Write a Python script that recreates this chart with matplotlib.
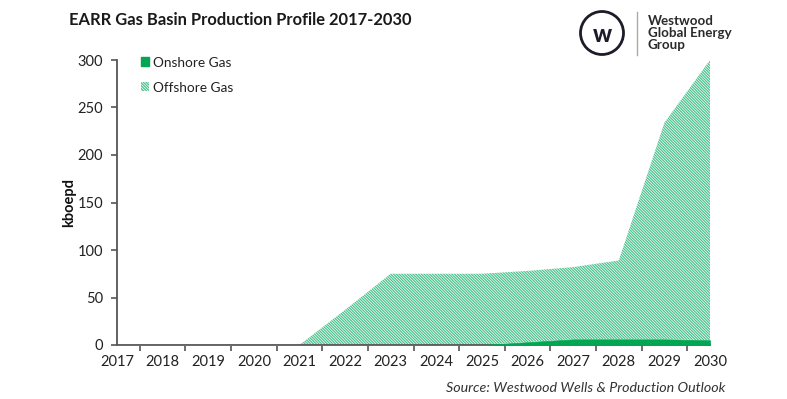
import matplotlib
matplotlib.use("Agg")
import matplotlib.pyplot as plt
import numpy as np
from matplotlib.patches import Circle, Patch
from matplotlib.lines import Line2D

years = [2017, 2018, 2019, 2020, 2021, 2022, 2023, 2024, 2025, 2026, 2027, 2028, 2029, 2030]
onshore = [0, 0, 0, 0, 0, 0, 0, 0, 0, 3, 6, 6, 6, 5]
offshore = [0, 0, 0, 0, 0, 37, 75, 75, 75, 75, 76, 83, 228, 295]
yticks = [0, 50, 100, 150, 200, 250, 300]

plt.rcParams['font.family'] = ['Lato', 'DejaVu Sans']
plt.rcParams['hatch.linewidth'] = 0.9

HATCH = '\\' * 12

fig = plt.figure(figsize=(7.87, 3.99), dpi=100)
ax = fig.add_axes([117/787, 1-345/399, (710-117)/787, (345-60)/399])

x = np.array(years, dtype=float)
on = np.array(onshore, dtype=float)
off = np.array(offshore, dtype=float)
total = on + off

off_color = '#4cc28e'
on_color = '#00a651'
ax.fill_between(x, on, total, facecolor='none', edgecolor=off_color, linewidth=0,
                hatch=HATCH, zorder=2)
ax.fill_between(x, 0, on, facecolor=on_color, edgecolor=on_color, linewidth=0.5, zorder=3)

ax.set_xlim(2017, 2030)
ax.set_ylim(0, 300)
ax.set_yticks(yticks)
ax.set_xticks(years)
ax.set_xticklabels([str(y) for y in years])
ax.set_xticks([y + 0.5 for y in years[:-1]] + [2030], minor=True)
ax.tick_params(axis='x', which='major', length=0, pad=7, labelsize=10.5, colors='#222222')
ax.tick_params(axis='x', which='minor', length=4, width=1.2, color='#555555', direction='out')
ax.tick_params(axis='y', which='major', length=4, width=1.2, color='#555555', pad=6,
               labelsize=10.5, labelcolor='#222222')
for s in ['top', 'right']:
    ax.spines[s].set_visible(False)
for s in ['left', 'bottom']:
    ax.spines[s].set_color('#555555')
    ax.spines[s].set_linewidth(1.3)
ax.set_ylabel('kboepd', fontsize=10.5, fontweight='bold', color='#111111', labelpad=1)

handles = [Patch(facecolor=on_color, edgecolor=on_color, label='Onshore Gas'),
           Patch(facecolor='none', edgecolor=off_color, linewidth=0, hatch=HATCH,
                 label='Offshore Gas')]
leg = ax.legend(handles=handles, loc='upper left', bbox_to_anchor=(0.02, 1.055), frameon=False,
                fontsize=9.8, handlelength=0.6, handleheight=0.6, handletextpad=0.3,
                labelspacing=0.95)
for t in leg.get_texts():
    t.set_color('#222222')

fig.text(69/787, 1-20/399, 'EARR Gas Basin Production Profile 2017-2030', fontsize=11.9,
         fontweight='bold', color='#1a1a1a', va='center', ha='left')

fig.text(725/787, 1-388/399, 'Source: Westwood Wells & Production Outlook', fontsize=10.25,
         style='italic', color='#333333', va='center', ha='right')

# logo
lax = fig.add_axes([0, 0, 1, 1], facecolor='none')
lax.set_xlim(0, 787)
lax.set_ylim(399, 0)
lax.axis('off')
lax.add_patch(Circle((602, 33), 21.5, facecolor='none', edgecolor='#1c1c2a', linewidth=2.0))
lax.text(602, 34, 'w', fontsize=17, fontweight='black', color='#1c1c2a', ha='center', va='center',
         family=['Lato', 'DejaVu Sans'])
lax.add_line(Line2D([637, 637], [12, 55], color='#aaaaaa', linewidth=1.0))
for i, s in enumerate(['Westwood', 'Global Energy', 'Group']):
    lax.text(648, 21 + 11.8 * i, s, fontsize=9.6, fontweight='bold', color='#2a2a2a',
             ha='left', va='center')

fig.savefig('out.png', dpi=100, facecolor='white')
